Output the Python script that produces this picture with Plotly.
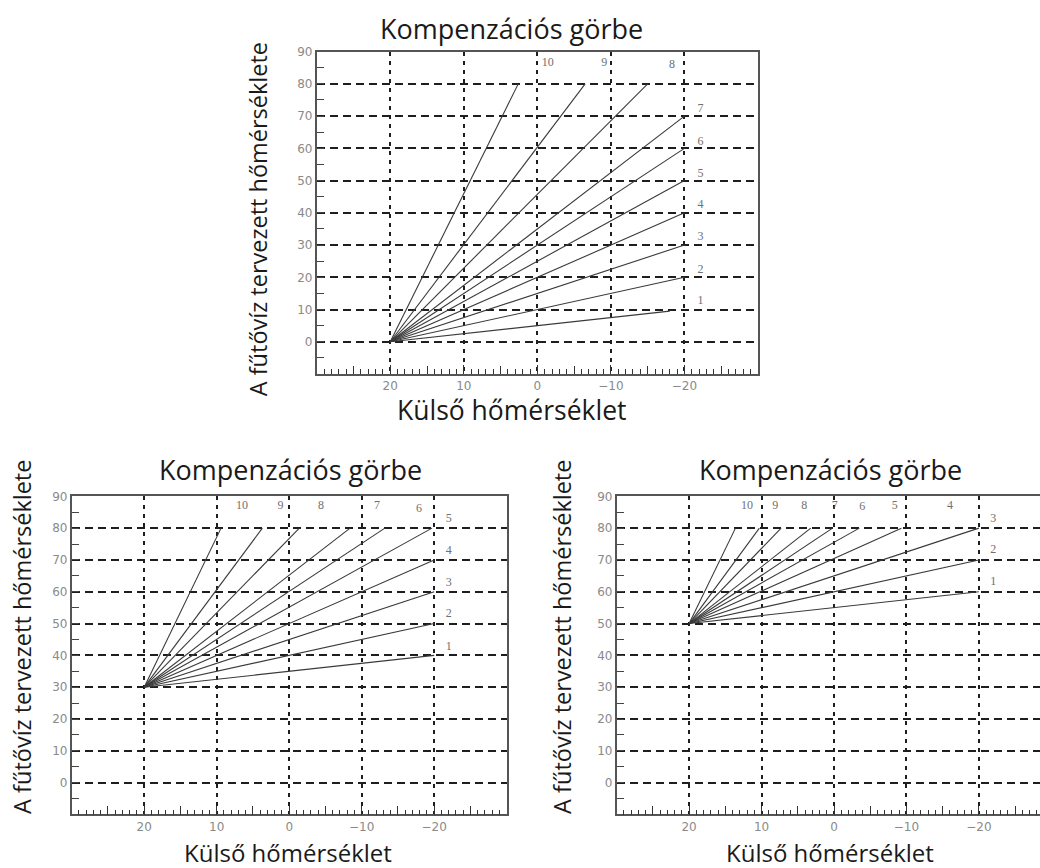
import plotly.graph_objects as go

# ---------------- data ----------------
curve_ids = [1, 2, 3, 4, 5, 6, 7, 8, 9, 10]
start_x = 20  # outside temperature at which every curve starts

# top chart (base 0)
top_base = 0
top_end_x = [-18, -20, -20, -20, -20, -20, -20, -15, -6.5, 2.6]
top_end_y = [9.5, 20, 30, 40, 50, 60, 70, 80, 80, 80]
top_lab_x = [-22.2, -22.2, -22.2, -22.2, -22.2, -22.2, -22.2, -18.3, -9.1, -1.4]
top_lab_y = [12.6, 22.4, 32.6, 42.4, 52, 62, 72.2, 85.8, 86.6, 86.6]

# bottom-left chart (base 30)
bl_base = 30
bl_end_x = [-20, -20, -20, -20, -19.7, -13.2, -8.4, -1.4, 3.7, 9.4]
bl_end_y = [40, 50, 60, 70, 80, 80, 80, 80, 80, 80]
bl_lab_x = [-22, -22, -22, -22, -22, -17.9, -12.1, -4.4, 1.2, 6.5]
bl_lab_y = [42.5, 53, 62.9, 72.9, 82.8, 86, 87, 87, 87, 87]

# bottom-right chart (base 50)
br_base = 50
br_end_x = [-20, -20, -20, -9.3, -3.5, 0.2, 3.2, 7.3, 10.3, 13.6]
br_end_y = [60, 70, 80, 80, 80, 80, 80, 80, 80, 80]
br_lab_x = [-22, -22, -22, -16, -8.4, -3.9, -0.1, 4.1, 8.1, 12.0]
br_lab_y = [63, 73, 83, 87, 87, 86.5, 87, 87, 87, 87]

x_tickvals = [20, 10, 0, -10, -20]
x_ticktext = ["20", "10", "0", "\u221210", "\u221220"]
x_mid_tickvals = [25, 15, 5, -5, -15, -25]
y_tickvals = [0, 10, 20, 30, 40, 50, 60, 70, 80, 90]
y_ticktext = ["0", "10", "20", "30", "40", "50", "60", "70", "80", "90"]

title_text = "Kompenzációs görbe"
xtitle_text = "Külső hőmérséklet"
ytitle_text = "A fűtővíz tervezett hőmérséklete"

# ---------------- figure ----------------
W, H = 1040, 868
fig = go.Figure()

charts = [
    ("x", "y", "x4", top_base, top_end_x, top_end_y, top_lab_x, top_lab_y),
    ("x2", "y2", "x5", bl_base, bl_end_x, bl_end_y, bl_lab_x, bl_lab_y),
    ("x3", "y3", "x6", br_base, br_end_x, br_end_y, br_lab_x, br_lab_y),
]

for xa, ya, xo, base, ex, ey, lx, ly in charts:
    for cid, x1, y1 in zip(curve_ids, ex, ey):
        fig.add_trace(go.Scatter(
            x=[start_x, x1], y=[base, y1], mode="lines",
            line=dict(color="#3a3a3a", width=1.1),
            xaxis=xa, yaxis=ya, showlegend=False, hoverinfo="skip"))
    fig.add_trace(go.Scatter(
        x=lx, y=ly, mode="text", text=[str(c) for c in curve_ids],
        textfont=dict(family="Liberation Serif", size=12, color="#707070"),
        xaxis=xa, yaxis=ya, showlegend=False, hoverinfo="skip"))
    # invisible trace so the overlay axis (mid ticks at the 5s) is drawn
    fig.add_trace(go.Scatter(
        x=[start_x], y=[base], mode="markers", marker=dict(opacity=0),
        xaxis=xo, yaxis=ya, showlegend=False, hoverinfo="skip"))


def px_x(p):
    return p / W


def px_y(p):
    return 1 - p / H


def xaxis_cfg(left, right, rng, anchor, mirror=True):
    return dict(
        domain=[px_x(left), px_x(right)], range=rng, autorange=False,
        anchor=anchor,
        tickmode="array", tickvals=x_tickvals, ticktext=x_ticktext,
        ticks="inside", ticklen=9, tickwidth=1.3, tickcolor="#333",
        tickfont=dict(family="DejaVu Sans", size=12, color="#8a8a8a"),
        showgrid=True, gridcolor="#1e1e1e", gridwidth=1.8, griddash="4px,5px",
        zeroline=False, showline=True, linecolor="#555", linewidth=1.6,
        mirror=mirror,
        minor=dict(tickmode="linear", tick0=0, dtick=1, ticks="inside",
                   ticklen=5, tickwidth=1.2, tickcolor="#333", showgrid=False),
    )


def xover_cfg(base_axis, anchor, rng):
    return dict(
        overlaying=base_axis, anchor=anchor, range=rng, autorange=False,
        tickmode="array", tickvals=x_mid_tickvals,
        ticktext=[""] * len(x_mid_tickvals),
        ticks="inside", ticklen=8, tickwidth=1.3, tickcolor="#333",
        showgrid=False, zeroline=False, showline=False,
    )


def yaxis_cfg(top, bottom, anchor, mirror=True):
    return dict(
        domain=[px_y(bottom), px_y(top)], range=[-10, 90], autorange=False,
        anchor=anchor,
        tickmode="array", tickvals=y_tickvals, ticktext=y_ticktext,
        ticks="inside", ticklen=7, tickwidth=1.2, tickcolor="#444",
        tickfont=dict(family="DejaVu Sans", size=12, color="#8a8a8a"),
        showgrid=True, gridcolor="#1e1e1e", gridwidth=1.6, griddash="8px,5px",
        zeroline=False, showline=True, linecolor="#555", linewidth=1.6,
        mirror=mirror,
        minor=dict(tickmode="linear", tick0=5, dtick=10, ticks="inside",
                   ticklen=7, tickwidth=1.2, tickcolor="#444", showgrid=False),
    )


top_rng = [30, -30]
br_rng = [30, -28.44]

fig.update_layout(
    width=W, height=H,
    margin=dict(l=0, r=0, t=0, b=0),
    paper_bgcolor="white", plot_bgcolor="white",
    xaxis=xaxis_cfg(316.7, 758, top_rng, "y"),
    yaxis=yaxis_cfg(45, 370, "x"),
    xaxis2=xaxis_cfg(71.7, 506.7, top_rng, "y2"),
    yaxis2=yaxis_cfg(493.3, 814, "x2"),
    xaxis3=xaxis_cfg(616.7, 1040, br_rng, "y3"),
    yaxis3=yaxis_cfg(493.3, 814, "x3", mirror=False),
    xaxis4=xover_cfg("x", "y", top_rng),
    xaxis5=xover_cfg("x2", "y2", top_rng),
    xaxis6=xover_cfg("x3", "y3", br_rng),
)

title_font = dict(family="Open Sans", size=27, color="#1a1a1a")
ytitle_font = dict(family="Open Sans", size=23.5, color="#1a1a1a")
anns = []
# (title center, x-title center, x-title size, y-title center) in pixels
positions = [
    ((511.7, 22), (511.7, 406), 26.5, (258, 214)),
    ((290, 466), (288, 852), 24, (22, 635)),
    ((830, 466), (830, 852), 24, (562, 635)),
]
for (tx, ty), (xx, xy), xsize, (yx, yy) in positions:
    anns.append(dict(text=title_text, x=px_x(tx), y=px_y(ty), xref="paper",
                     yref="paper", showarrow=False, font=title_font,
                     xanchor="center", yanchor="middle"))
    anns.append(dict(text=xtitle_text, x=px_x(xx), y=px_y(xy), xref="paper",
                     yref="paper", showarrow=False,
                     font=dict(family="Open Sans", size=xsize, color="#1a1a1a"),
                     xanchor="center", yanchor="middle"))
    anns.append(dict(text=ytitle_text, x=px_x(yx), y=px_y(yy), xref="paper",
                     yref="paper", showarrow=False, font=ytitle_font,
                     textangle=-90, xanchor="center", yanchor="middle"))
fig.update_layout(annotations=anns)

fig.write_html("out.html", config={"displayModeBar": False},
               post_script="document.body.style.margin='0';")
